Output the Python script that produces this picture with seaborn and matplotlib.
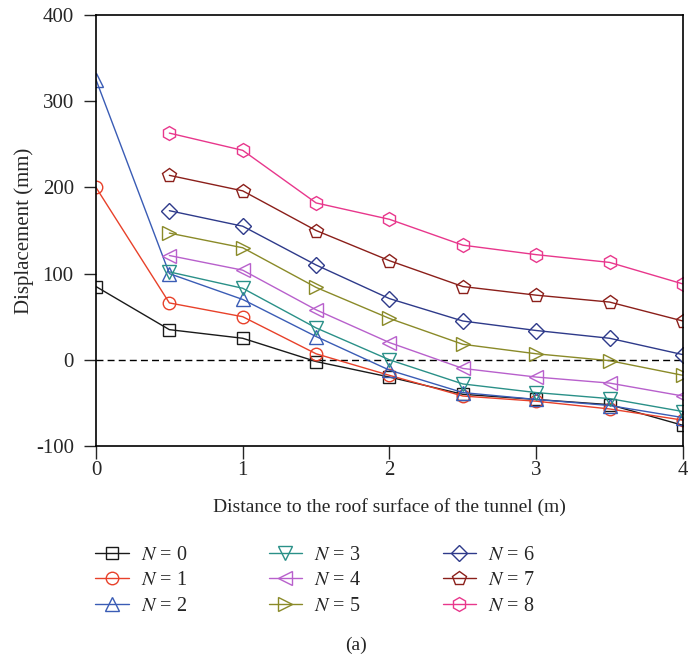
import matplotlib
matplotlib.use("Agg")
import matplotlib.pyplot as plt
import seaborn as sns
import pandas as pd
from matplotlib.lines import Line2D

x_full = [0, 0.5, 1, 1.5, 2, 2.5, 3, 3.5, 4]
x_part = [0.5, 1, 1.5, 2, 2.5, 3, 3.5, 4]

n0 = [85, 35, 25, -2, -20, -40, -46, -52, -76]
n1 = [200, 66, 50, 7, -18, -42, -48, -57, -70]
n2 = [325, 100, 70, 27, -12, -38, -46, -53, -67]
n3 = [102, 83, 37, 0, -28, -38, -45, -60]
n4 = [121, 104, 58, 20, -10, -20, -27, -42]
n5 = [147, 130, 84, 48, 18, 7, -1, -18]
n6 = [173, 155, 110, 71, 45, 34, 25, 6]
n7 = [214, 196, 150, 115, 85, 75, 67, 45]
n8 = [263, 243, 182, 163, 133, 122, 113, 88]

labels = ["$N$ = 0", "$N$ = 1", "$N$ = 2", "$N$ = 3", "$N$ = 4",
          "$N$ = 5", "$N$ = 6", "$N$ = 7", "$N$ = 8"]
series = [(x_full, n0), (x_full, n1), (x_full, n2), (x_part, n3), (x_part, n4),
          (x_part, n5), (x_part, n6), (x_part, n7), (x_part, n8)]
colors = ["#1a1a1a", "#e8412a", "#3a5cb5", "#2a9088", "#b860cc",
          "#8a8a28", "#2e3a8a", "#8b1f1a", "#e8378c"]
markers = ["s", "o", "^", "v", "<", ">", "D", "p", "h"]
msizes = [8, 9, 10, 10, 10, 10, 8, 10, 10]

sns.set_style("white")
plt.rcParams["font.family"] = ["Liberation Serif", "DejaVu Serif"]
plt.rcParams["mathtext.fontset"] = "stix"
plt.rcParams["axes.unicode_minus"] = False

fig = plt.figure(figsize=(6.88, 6.67), dpi=100)
ax = fig.add_axes([0.1395, 0.3313, 0.8532, 0.6462])

for (xs, ys), lab, c, m, ms in zip(series, labels, colors, markers, msizes):
    df = pd.DataFrame({"x": xs, "y": ys})
    sns.lineplot(data=df, x="x", y="y", ax=ax, color=c, marker=m, markersize=ms,
                 markerfacecolor="none", markeredgecolor=c, markeredgewidth=1.0,
                 linewidth=1.0, label=lab, legend=False)

ax.axhline(0, color="black", linestyle=(0, (5, 3)), linewidth=1.0, zorder=0)

ax.set_xlim(0, 4)
ax.set_ylim(-100, 400)
ax.set_xticks([0, 1, 2, 3, 4])
ax.set_yticks([-100, 0, 100, 200, 300, 400])
ax.set_xlabel("Distance to the roof surface of the tunnel (m)", fontsize=14, labelpad=13)
ax.set_ylabel("Displacement (mm)", fontsize=15, labelpad=1)
ax.tick_params(axis="both", direction="out", length=9, width=1.0, labelsize=15,
               bottom=True, left=True)
ax.tick_params(axis="x", pad=1.5)
ax.tick_params(axis="y", pad=7)
for sp in ax.spines.values():
    sp.set_visible(True)
    sp.set_color("black")
    sp.set_linewidth(1.2)

handles = [Line2D([0], [0], color=c, marker=m, markersize=ms, markerfacecolor="none",
                  markeredgecolor=c, linewidth=1.0)
           for c, m, ms in zip(colors, markers, msizes)]
fig.legend(handles, labels, ncol=3, loc="upper left", bbox_to_anchor=(0.127, 0.194),
           frameon=False, fontsize=14.5, handlelength=1.65, handletextpad=0.6,
           columnspacing=4.05, labelspacing=0.32, borderaxespad=0.0)

fig.text(0.517, 0.033, "(a)", ha="center", va="center", fontsize=14)

fig.savefig("out.png", dpi=100)
